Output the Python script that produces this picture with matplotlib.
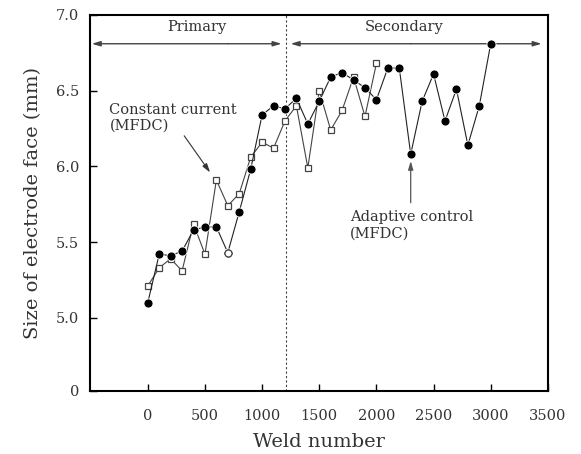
import numpy as np
import matplotlib.pyplot as plt

plt.rcParams["font.family"] = ["DejaVu Serif"]

# ============================================================
# 数据
# ============================================================
adaptive_x = [0, 100, 200, 300, 400, 500, 600, 700, 800, 900, 1000, 1100, 1200,
              1300, 1400, 1500, 1600, 1700, 1800, 1900, 2000, 2100, 2200, 2300,
              2400, 2500, 2600, 2700, 2800, 2900, 3000]
adaptive_y = [5.10, 5.42, 5.41, 5.44, 5.58, 5.60, 5.60, 5.43, 5.70, 5.98, 6.34,
              6.40, 6.38, 6.45, 6.28, 6.43, 6.59, 6.62, 6.57, 6.52, 6.44, 6.65,
              6.65, 6.08, 6.43, 6.61, 6.30, 6.51, 6.14, 6.40, 6.81]
adaptive_hollow = [7]  # 原图中此点为空心圆

constant_x = [0, 100, 200, 300, 400, 500, 600, 700, 800, 900, 1000, 1100, 1200,
              1300, 1400, 1500, 1600, 1700, 1800, 1900, 2000]
constant_y = [5.21, 5.33, 5.39, 5.31, 5.62, 5.42, 5.91, 5.74, 5.82, 6.06, 6.16,
              6.12, 6.30, 6.40, 5.99, 6.50, 6.24, 6.37, 6.59, 6.33, 6.68]

x_ticks = [0, 500, 1000, 1500, 2000, 2500, 3000, 3500]
y_ticks = [4.517, 5.0, 5.5, 6.0, 6.5, 7.0]
y_ticklabels = ["0", "5.0", "5.5", "6.0", "6.5", "7.0"]

PHASE_SPLIT = 1210
TEXT_COLOR = "#333333"

# ============================================================
# 绘图
# ============================================================
fig = plt.figure(figsize=(5.81, 4.54), dpi=100)
ax = fig.add_axes([0.155, 0.139, 0.788, 0.828])

ax.plot(constant_x, constant_y, color="#444444", lw=0.8, marker="s", ms=5,
        mfc="white", mec="#444444", mew=0.9, zorder=3)
ax.plot(adaptive_x, adaptive_y, color="#222222", lw=0.8, marker="o", ms=6.5,
        mfc="black", mec="white", mew=0.6, zorder=4)
for i in adaptive_hollow:
    ax.plot(adaptive_x[i], adaptive_y[i], marker="o", ms=5, mfc="white",
            mec="#444444", mew=0.8, zorder=5)

ax.axvline(PHASE_SPLIT, color="#444444", lw=0.8, ls=(0, (2, 2)), zorder=1)

# 阶段箭头
arrow_kw = dict(arrowstyle="-|>,head_length=0.5,head_width=0.15", color="#444444", lw=1.0,
                shrinkA=0, shrinkB=0)
ax.annotate("", xy=(-490, 6.81), xytext=(700, 6.81), arrowprops=arrow_kw)
ax.annotate("", xy=(1170, 6.81), xytext=(700, 6.81), arrowprops=arrow_kw)
ax.annotate("", xy=(1250, 6.81), xytext=(2300, 6.81), arrowprops=arrow_kw)
ax.annotate("", xy=(3445, 6.81), xytext=(2300, 6.81), arrowprops=arrow_kw)
ax.text(425, 6.92, "Primary", ha="center", va="center", fontsize=10.5, color=TEXT_COLOR)
ax.text(2240, 6.92, "Secondary", ha="center", va="center", fontsize=10.5, color=TEXT_COLOR)

# 注释
ax.annotate("Constant current\n(MFDC)", xy=(545, 5.96), xytext=(-335, 6.32),
            ha="left", va="center", fontsize=10.5, color=TEXT_COLOR, linespacing=1.2,
            arrowprops=dict(arrowstyle="-|>,head_length=0.5,head_width=0.15",
                            color="#333333", lw=0.8, shrinkA=0, shrinkB=0,
                            relpos=(0.57, 0.0)))
ax.text(1770, 5.61, "Adaptive control\n(MFDC)", ha="left", va="center",
        fontsize=10.5, color=TEXT_COLOR, linespacing=1.2)
ax.annotate("", xy=(2300, 6.035), xytext=(2300, 5.76),
            arrowprops=dict(arrowstyle="-|>,head_length=0.5,head_width=0.15",
                            color="#555555", lw=0.9, shrinkA=0, shrinkB=0))

ax.set_xlim(-505, 3455)
ax.set_ylim(4.517, 7.0)
ax.set_xticks(x_ticks)
ax.set_yticks(y_ticks)
ax.set_yticklabels(y_ticklabels)
ax.tick_params(direction="in", length=5, width=1.0, labelsize=10.5,
               labelcolor=TEXT_COLOR, pad=8)
ax.tick_params(axis="x", pad=13)
for s in ax.spines.values():
    s.set_linewidth(1.5)

ax.set_xlabel("Weld number", fontsize=14, color=TEXT_COLOR, labelpad=7)
ax.set_ylabel("Size of electrode face (mm)", fontsize=14, color=TEXT_COLOR, labelpad=10)

fig.savefig("out.png", dpi=100)
